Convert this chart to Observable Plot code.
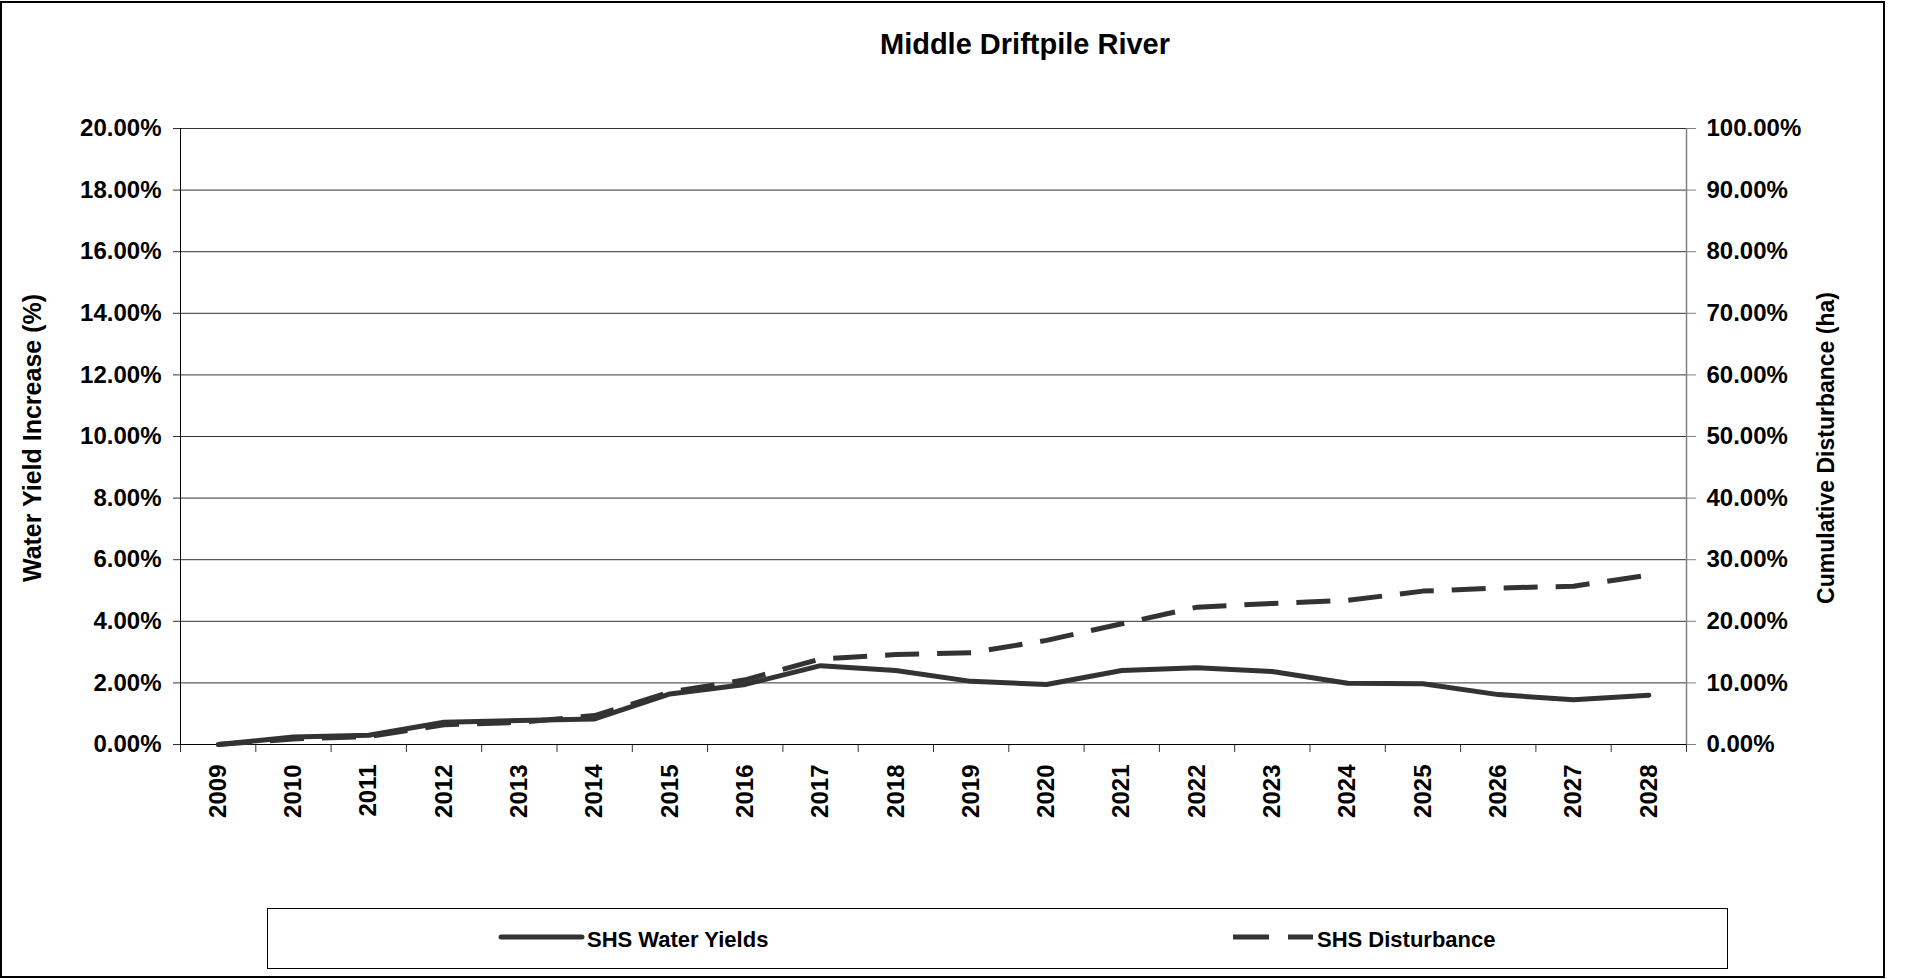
<!DOCTYPE html>
<html>
<head>
<meta charset="utf-8">
<script src="https://cdn.jsdelivr.net/npm/d3@7"></script>
<script src="https://cdn.jsdelivr.net/npm/@observablehq/plot@0.6"></script>
<style>
  html, body { margin: 0; padding: 0; background: #fff; }
  body { font-family: "Liberation Sans", Arial, sans-serif; }
  #wrap { position: relative; width: 1907px; height: 979px; overflow: hidden; }
  #frame { position: absolute; left: 0; top: 1px; width: 1885px; height: 977px; border: 2px solid #000; box-sizing: border-box; }
  #title { position: absolute; left: 0; width: 2050px; top: 29.5px; text-align: center; font-size: 29px; line-height: 29px; font-weight: bold; color: #000; }
  #chart { position: absolute; left: 0; top: 0; }
  #legend { position: absolute; left: 267px; top: 908px; width: 1461px; height: 61px; border: 1px solid #000; box-sizing: border-box; }
</style>
</head>
<body>
<div id="wrap">
  <div id="frame"></div>
  <div id="chart"></div>
  <div id="title">Middle Driftpile River</div>
  <div id="legend"></div>
</div>
<script>
// ---- data ----
const years = [2009, 2010, 2011, 2012, 2013, 2014, 2015, 2016, 2017, 2018, 2019, 2020, 2021, 2022, 2023, 2024, 2025, 2026, 2027, 2028];
// SHS Water Yields (left axis, %)
const waterYields = [0.00, 0.24, 0.30, 0.72, 0.78, 0.83, 1.64, 1.95, 2.56, 2.40, 2.05, 1.95, 2.40, 2.49, 2.37, 1.99, 1.97, 1.62, 1.45, 1.60];
// SHS Disturbance (right axis, cumulative %)
const disturbance = [0.0, 0.9, 1.3, 3.2, 3.6, 4.7, 8.5, 10.5, 13.9, 14.6, 14.9, 16.9, 19.6, 22.3, 22.9, 23.4, 24.9, 25.4, 25.7, 27.5];
// tick labels
const leftTicks = [0, 2, 4, 6, 8, 10, 12, 14, 16, 18, 20];
const rightTicks = [0, 10, 20, 30, 40, 50, 60, 70, 80, 90, 100];
const seriesNames = ["SHS Water Yields", "SHS Disturbance"];
const yTitleLeft = "Water Yield Increase (%)";
const yTitleRight = "Cumulative Disturbance (ha)";

const ratio = 100 / 20; // right axis max / left axis max
const rows = years.map((y, i) => ({year: y, wy: waterYields[i], dist: disturbance[i]}));
const bounds = years.map(y => y - 0.5).concat([years[years.length - 1] + 0.5]);

const lineColor = "#333333";

const plot = Plot.plot({
  width: 1907,
  height: 900,
  marginLeft: 180,
  marginRight: 221,
  marginTop: 128,
  marginBottom: 156,
  style: {fontFamily: "'Liberation Sans', Arial, sans-serif", fontSize: "24px", fontWeight: "bold", color: "#000", background: "transparent"},
  x: {type: "linear", domain: [bounds[0], bounds[bounds.length - 1]]},
  y: {domain: [0, 20]},
  marks: [
    Plot.ruleY(leftTicks, {stroke: "#333", strokeWidth: 1}),
    Plot.ruleX([bounds[bounds.length - 1]], {stroke: "#808080", strokeWidth: 1.5}),
    Plot.ruleX([bounds[0]], {stroke: "#000", strokeWidth: 1}),
    Plot.axisY({anchor: "left", ticks: leftTicks, tickFormat: d => d.toFixed(2) + "%", tickSize: 7, tickPadding: 12, label: null, stroke: "#333"}),
    Plot.axisY({anchor: "right", ticks: rightTicks.map(v => v / ratio), tickFormat: d => (d * ratio).toFixed(2) + "%", tickSize: 9, tickPadding: 11, label: null, stroke: "#808080"}),
    Plot.axisX({ticks: years, tickFormat: d => String(d), tickSize: 0, tickRotate: -90, tickPadding: 20, label: null}),
    Plot.axisX({ticks: bounds, tickFormat: () => "", tickSize: 8, label: null, stroke: "#333"}),
    Plot.ruleY([0], {stroke: "#000", strokeWidth: 1}),
    Plot.line(rows, {x: "year", y: "wy", stroke: lineColor, strokeWidth: 5, strokeLinejoin: "round", strokeLinecap: "round"}),
    Plot.line(rows, {x: "year", y: d => d.dist / ratio, stroke: lineColor, strokeWidth: 5, strokeDasharray: "34,18", strokeLinejoin: "round", strokeLinecap: "butt"})
  ]
});
document.getElementById("chart").appendChild(plot);

// axis titles
const svg = d3.select(plot);
svg.append("text")
  .attr("transform", "translate(32,438) rotate(-90)")
  .attr("text-anchor", "middle").attr("dy", "0.35em")
  .style("font-size", "25px").style("font-weight", "bold").attr("fill", "#000")
  .text(yTitleLeft);
svg.append("text")
  .attr("transform", "translate(1826,448) rotate(-90)")
  .attr("text-anchor", "middle").attr("dy", "0.35em")
  .style("font-size", "23px").style("font-weight", "bold").attr("fill", "#000")
  .text(yTitleRight);

// legend
const lg = d3.select("#legend").append("svg").attr("width", 1459).attr("height", 59)
  .style("font-family", "'Liberation Sans', Arial, sans-serif");
const items = [
  {name: seriesNames[0], x1: 233, x2: 314, dash: null, tx: 319},
  {name: seriesNames[1], x1: 965, x2: 1045, dash: "36,19", tx: 1049}
];
items.forEach(it => {
  const l = lg.append("line").attr("x1", it.x1).attr("x2", it.x2).attr("y1", 28).attr("y2", 28)
    .attr("stroke", lineColor).attr("stroke-width", 5);
  if (it.dash) l.attr("stroke-dasharray", it.dash); else l.attr("stroke-linecap", "round");
  lg.append("text").attr("x", it.tx).attr("y", 38).attr("fill", "#000")
    .style("font-size", "22px").style("font-weight", "bold").text(it.name);
});
</script>
</body>
</html>
